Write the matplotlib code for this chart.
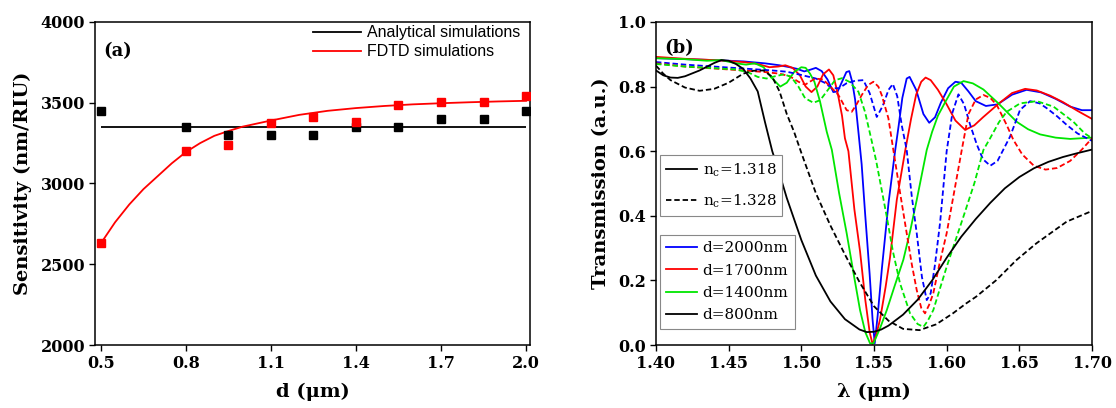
import matplotlib
matplotlib.use("Agg")
import matplotlib.pyplot as plt
from matplotlib.lines import Line2D

plt.rcParams['font.family'] = ['DejaVu Serif']
plt.rcParams['mathtext.fontset'] = 'dejavuserif'

# ---------------- panel (a): sensitivity vs thickness ----------------
d_um = [0.5, 0.8, 0.95, 1.1, 1.25, 1.4, 1.55, 1.7, 1.85, 2.0]
s_analytical_pts = [3450, 3350, 3300, 3300, 3300, 3350, 3350, 3400, 3400, 3450]
s_fdtd_pts = [2630, 3200, 3240, 3375, 3410, 3380, 3485, 3505, 3505, 3540]
s_analytical_line = 3350
d_fit = [0.5, 0.55, 0.6, 0.65, 0.7, 0.75, 0.8, 0.85, 0.9, 0.95, 1.0, 1.1, 1.2,
         1.3, 1.4, 1.5, 1.6, 1.7, 1.8, 1.9, 2.0]
s_fit = [2630, 2760, 2870, 2965, 3045, 3125, 3195, 3250, 3295, 3325, 3352, 3390,
         3425, 3450, 3467, 3480, 3490, 3497, 3503, 3508, 3512]

# ---------------- panel (b): transmission spectra ----------------
# solid: n_c = 1.318, dashed: n_c = 1.328
lam_b2000_s = [1.400, 1.420, 1.440, 1.460, 1.475, 1.485, 1.492, 1.497, 1.502, 1.506,
               1.510, 1.514, 1.518, 1.522, 1.525, 1.528, 1.531, 1.533, 1.535, 1.537,
               1.5395, 1.5415, 1.544, 1.547, 1.549, 1.5505, 1.5525, 1.5555, 1.560,
               1.5645, 1.567, 1.5695, 1.5725, 1.5745, 1.579, 1.584, 1.588, 1.592,
               1.596, 1.601, 1.606, 1.610, 1.615, 1.620, 1.627, 1.635, 1.645, 1.655,
               1.665, 1.675, 1.685, 1.693, 1.700]
t_b2000_s = [0.888, 0.885, 0.882, 0.878, 0.872, 0.866, 0.860, 0.855, 0.847, 0.852,
             0.858, 0.848, 0.822, 0.783, 0.785, 0.815, 0.845, 0.848, 0.815, 0.760,
             0.650, 0.560, 0.400, 0.220, 0.080, 0.005, 0.090, 0.240, 0.440,
             0.600, 0.680, 0.765, 0.825, 0.830, 0.790, 0.715, 0.688, 0.705,
             0.750, 0.795, 0.815, 0.812, 0.785, 0.755, 0.740, 0.745, 0.775, 0.790,
             0.782, 0.762, 0.738, 0.727, 0.727]

lam_r1700_s = [1.400, 1.420, 1.440, 1.460, 1.470, 1.478, 1.484, 1.489, 1.494, 1.499,
               1.503, 1.507, 1.511, 1.515, 1.519, 1.522, 1.525, 1.528, 1.530, 1.5324,
               1.5365, 1.5404, 1.544, 1.547, 1.549, 1.5515, 1.5542, 1.558, 1.561,
               1.5657, 1.5714, 1.5755, 1.579, 1.5825, 1.5855, 1.589, 1.594, 1.600,
               1.606, 1.6127, 1.619, 1.625, 1.636, 1.645, 1.654, 1.662, 1.6712,
               1.680, 1.690, 1.700]
t_r1700_s = [0.892, 0.886, 0.882, 0.876, 0.870, 0.860, 0.862, 0.866, 0.858, 0.835,
             0.800, 0.783, 0.800, 0.838, 0.853, 0.835, 0.780, 0.710, 0.640, 0.600,
             0.420, 0.290, 0.140, 0.040, 0.003, 0.030, 0.080, 0.180, 0.270,
             0.450, 0.600, 0.700, 0.775, 0.815, 0.828, 0.820, 0.790, 0.745,
             0.695, 0.666, 0.680, 0.705, 0.748, 0.780, 0.793, 0.788, 0.772,
             0.752, 0.725, 0.700]

lam_g1400_s = [1.400, 1.420, 1.435, 1.445, 1.455, 1.462, 1.468, 1.474, 1.479, 1.4855,
               1.490, 1.495, 1.500, 1.503, 1.506, 1.509, 1.5129, 1.5175, 1.521, 1.526,
               1.5312, 1.536, 1.5404, 1.544, 1.5473, 1.5496, 1.554, 1.5588, 1.564,
               1.5702, 1.575, 1.5794, 1.583, 1.5863, 1.590, 1.594, 1.599, 1.605,
               1.6116, 1.618, 1.6253, 1.6356, 1.6482, 1.656, 1.6643, 1.675, 1.685,
               1.700]
t_g1400_s = [0.888, 0.885, 0.880, 0.882, 0.872, 0.868, 0.872, 0.860, 0.830, 0.800,
             0.812, 0.845, 0.860, 0.858, 0.840, 0.815, 0.753, 0.660, 0.604, 0.470,
             0.346, 0.220, 0.108, 0.040, 0.005, 0.005, 0.050, 0.108, 0.180,
             0.264, 0.355, 0.449, 0.530, 0.604, 0.660, 0.710, 0.752, 0.800,
             0.817, 0.810, 0.791, 0.748, 0.691, 0.668, 0.652, 0.642, 0.638,
             0.642]

lam_k800_s = [1.400, 1.405, 1.410, 1.415, 1.420, 1.430, 1.440, 1.445, 1.450, 1.455,
              1.460, 1.465, 1.470, 1.475, 1.480, 1.485, 1.490, 1.500, 1.510, 1.520,
              1.530, 1.540, 1.545, 1.550, 1.555, 1.560, 1.570, 1.580, 1.590, 1.600,
              1.610, 1.620, 1.630, 1.640, 1.650, 1.660, 1.670, 1.680, 1.690, 1.700]
t_k800_s = [0.850, 0.835, 0.828, 0.827, 0.832, 0.850, 0.873, 0.882, 0.880, 0.870,
            0.855, 0.825, 0.785, 0.690, 0.600, 0.530, 0.455, 0.325, 0.215, 0.135,
            0.080, 0.048, 0.040, 0.041, 0.048, 0.060, 0.094, 0.140, 0.200, 0.270,
            0.335, 0.390, 0.440, 0.485, 0.520, 0.547, 0.567, 0.582, 0.594, 0.605]

lam_b2000_d = [1.400, 1.420, 1.440, 1.460, 1.480, 1.490, 1.500, 1.510, 1.516, 1.521,
               1.526, 1.531, 1.537, 1.5427, 1.547, 1.5519, 1.556, 1.560, 1.563, 1.566,
               1.5691, 1.5725, 1.576, 1.5794, 1.583, 1.5863, 1.589, 1.592, 1.5955,
               1.600, 1.604, 1.6081, 1.612, 1.6162, 1.6208, 1.625, 1.630, 1.635,
               1.6436, 1.6505, 1.6574, 1.664, 1.6689, 1.676, 1.6827, 1.690, 1.700]
t_b2000_d = [0.876, 0.868, 0.862, 0.856, 0.850, 0.846, 0.836, 0.825, 0.812, 0.795,
             0.795, 0.810, 0.818, 0.820, 0.780, 0.706, 0.740, 0.790, 0.808, 0.770,
             0.680, 0.604, 0.460, 0.346, 0.210, 0.139, 0.160, 0.250, 0.380,
             0.600, 0.720, 0.776, 0.745, 0.681, 0.620, 0.575, 0.555, 0.570,
             0.645, 0.728, 0.755, 0.748, 0.733, 0.708, 0.681, 0.655, 0.632]

lam_r1700_d = [1.400, 1.420, 1.440, 1.460, 1.475, 1.485, 1.492, 1.498, 1.5026, 1.5095,
               1.515, 1.520, 1.5255, 1.5312, 1.5347, 1.538, 1.5416, 1.546, 1.5496,
               1.553, 1.5553, 1.5599, 1.5633, 1.568, 1.5725, 1.576, 1.5794, 1.5825,
               1.5851, 1.588, 1.5908, 1.595, 1.600, 1.605, 1.6104, 1.615, 1.620,
               1.6253, 1.630, 1.6345, 1.6413, 1.6459, 1.652, 1.660, 1.668, 1.676,
               1.685, 1.693, 1.700]
t_r1700_d = [0.872, 0.862, 0.856, 0.850, 0.845, 0.840, 0.832, 0.815, 0.806, 0.825,
             0.822, 0.800, 0.774, 0.727, 0.722, 0.745, 0.774, 0.805, 0.815,
             0.800, 0.774, 0.702, 0.604, 0.470, 0.346, 0.250, 0.170, 0.115,
             0.098, 0.125, 0.160, 0.250, 0.346, 0.470, 0.604, 0.715, 0.760,
             0.774, 0.765, 0.743, 0.681, 0.635, 0.590, 0.555, 0.543, 0.548,
             0.570, 0.605, 0.640]

lam_g1400_d = [1.400, 1.420, 1.440, 1.455, 1.463, 1.470, 1.476, 1.482, 1.488, 1.493,
               1.498, 1.5026, 1.5083, 1.513, 1.5175, 1.5232, 1.528, 1.533, 1.5393,
               1.5438, 1.548, 1.5515, 1.5588, 1.563, 1.5679, 1.5748, 1.580, 1.584,
               1.587, 1.5908, 1.600, 1.6115, 1.619, 1.6253, 1.6299, 1.636, 1.6413,
               1.6505, 1.662, 1.6735, 1.6872, 1.695, 1.700]
t_g1400_d = [0.870, 0.862, 0.857, 0.853, 0.845, 0.830, 0.825, 0.832, 0.838, 0.830,
             0.800, 0.764, 0.750, 0.758, 0.785, 0.820, 0.826, 0.815, 0.784,
             0.722, 0.640, 0.570, 0.397, 0.290, 0.191, 0.098, 0.065, 0.056,
             0.075, 0.108, 0.242, 0.397, 0.500, 0.604, 0.640, 0.690, 0.722,
             0.748, 0.755, 0.738, 0.691, 0.655, 0.640]

lam_k800_d = [1.400, 1.405, 1.410, 1.420, 1.430, 1.440, 1.450, 1.460, 1.467, 1.474,
              1.480, 1.485, 1.490, 1.495, 1.500, 1.510, 1.520, 1.530, 1.540, 1.550,
              1.560, 1.570, 1.5813, 1.5928, 1.6043, 1.6135, 1.6204, 1.6342, 1.648,
              1.6618, 1.6826, 1.700]
t_k800_d = [0.865, 0.840, 0.820, 0.797, 0.787, 0.793, 0.812, 0.840, 0.849, 0.850,
            0.830, 0.785, 0.715, 0.660, 0.595, 0.470, 0.370, 0.280, 0.195, 0.120,
            0.075, 0.050, 0.046, 0.064, 0.098, 0.129, 0.150, 0.201, 0.263,
            0.315, 0.382, 0.415]

x_ticks_a = [0.5, 0.8, 1.1, 1.4, 1.7, 2.0]
y_ticks_a = [2000, 2500, 3000, 3500, 4000]
x_ticks_b = [1.40, 1.45, 1.50, 1.55, 1.60, 1.65, 1.70]
y_ticks_b = [0.0, 0.2, 0.4, 0.6, 0.8, 1.0]

BLUE, RED, GREEN, BLACK = '#0000ff', '#ff0000', '#00e600', '#000000'
DASH = (0, (3.0, 1.6))
LW = 1.3
TICK_FS = 11.5
LABEL_FS = 14

fig = plt.figure(figsize=(11.16, 4.08), dpi=100)
ax_a = fig.add_axes([0.0851, 0.1544, 0.3898, 0.7917])
ax_b = fig.add_axes([0.5878, 0.1544, 0.3907, 0.7917])

for ax in (ax_a, ax_b):
    for sp in ax.spines.values():
        sp.set_linewidth(1.1)
    ax.tick_params(direction='out', length=4, width=1.0, labelsize=TICK_FS, pad=3)

# panel (a)
ax_a.hlines(s_analytical_line, d_um[0], d_um[-1], color=BLACK, lw=1.3, zorder=2)
ax_a.plot(d_fit, s_fit, color=RED, lw=1.3, zorder=2)
ax_a.plot(d_um, s_analytical_pts, 's', color=BLACK, ms=6, zorder=3)
ax_a.plot(d_um, s_fdtd_pts, 's', color=RED, ms=6, zorder=3)
ax_a.set_xlim(0.479, 2.014)
ax_a.set_ylim(2000, 4000)
ax_a.set_xticks(x_ticks_a)
ax_a.set_xticklabels([f"{v:.1f}" for v in x_ticks_a], fontweight='bold')
ax_a.set_yticks(y_ticks_a)
ax_a.set_yticklabels([str(v) for v in y_ticks_a], fontweight='bold')
ax_a.set_xlabel('d (\u03bcm)', fontsize=LABEL_FS, fontweight='bold', labelpad=8)
ax_a.set_ylabel('Sensitivity (nm/RIU)', fontsize=LABEL_FS, fontweight='bold', labelpad=6)
ax_a.text(0.02, 0.91, '(a)', transform=ax_a.transAxes, fontsize=13,
          fontweight='bold', va='center', ha='left')
ax_a.legend(handles=[Line2D([], [], color=BLACK, lw=1.3),
                     Line2D([], [], color=RED, lw=1.3)],
            labels=['Analytical simulations', 'FDTD simulations'],
            loc='upper right', bbox_to_anchor=(1.0, 1.02), frameon=False,
            prop={'family': 'Liberation Sans', 'size': 11.5},
            handlelength=3.0, handletextpad=0.4, labelspacing=0.25,
            borderaxespad=0.2)

# panel (b)
curves = [
    (lam_b2000_s, t_b2000_s, BLUE, '-'),
    (lam_r1700_s, t_r1700_s, RED, '-'),
    (lam_g1400_s, t_g1400_s, GREEN, '-'),
    (lam_b2000_d, t_b2000_d, BLUE, DASH),
    (lam_r1700_d, t_r1700_d, RED, DASH),
    (lam_g1400_d, t_g1400_d, GREEN, DASH),
    (lam_k800_d, t_k800_d, BLACK, DASH),
    (lam_k800_s, t_k800_s, BLACK, '-'),
]
for lam, t, c, ls in curves:
    ax_b.plot(lam, t, color=c, ls=ls, lw=LW, solid_joinstyle='round')
ax_b.set_xlim(1.40, 1.70)
ax_b.set_ylim(0.0, 1.0)
ax_b.set_xticks(x_ticks_b)
ax_b.set_xticklabels([f"{v:.2f}" for v in x_ticks_b], fontweight='bold')
ax_b.set_yticks(y_ticks_b)
ax_b.set_yticklabels([f"{v:.1f}" for v in y_ticks_b], fontweight='bold')
ax_b.set_xlabel('\u03bb (\u03bcm)', fontsize=LABEL_FS, fontweight='bold', labelpad=8)
ax_b.set_ylabel('Transmission (a.u.)', fontsize=LABEL_FS, fontweight='bold', labelpad=6)
ax_b.text(0.02, 0.92, '(b)', transform=ax_b.transAxes, fontsize=13,
          fontweight='bold', va='center', ha='left')

leg_n = ax_b.legend(handles=[Line2D([], [], color=BLACK, lw=LW),
                             Line2D([], [], color=BLACK, lw=LW, ls=DASH)],
                    labels=['n$_\\mathregular{c}$=1.318', 'n$_\\mathregular{c}$=1.328'],
                    loc='upper left', bbox_to_anchor=(0.009, 0.588),
                    prop={'size': 11}, handlelength=2.0, handletextpad=0.4,
                    labelspacing=0.9, borderaxespad=0.0, fancybox=False,
                    edgecolor='#888888', framealpha=1.0)
leg_n.get_frame().set_linewidth(0.8)
ax_b.add_artist(leg_n)
leg_d = ax_b.legend(handles=[Line2D([], [], color=BLUE, lw=LW),
                             Line2D([], [], color=RED, lw=LW),
                             Line2D([], [], color=GREEN, lw=LW),
                             Line2D([], [], color=BLACK, lw=LW)],
                    labels=['d=2000nm', 'd=1700nm', 'd=1400nm', 'd=800nm'],
                    loc='upper left', bbox_to_anchor=(0.009, 0.34),
                    prop={'size': 11}, handlelength=2.0, handletextpad=0.4,
                    labelspacing=0.55, borderaxespad=0.0, fancybox=False,
                    edgecolor='#888888', framealpha=1.0)
leg_d.get_frame().set_linewidth(0.8)

fig.savefig('out.png', dpi=100)
